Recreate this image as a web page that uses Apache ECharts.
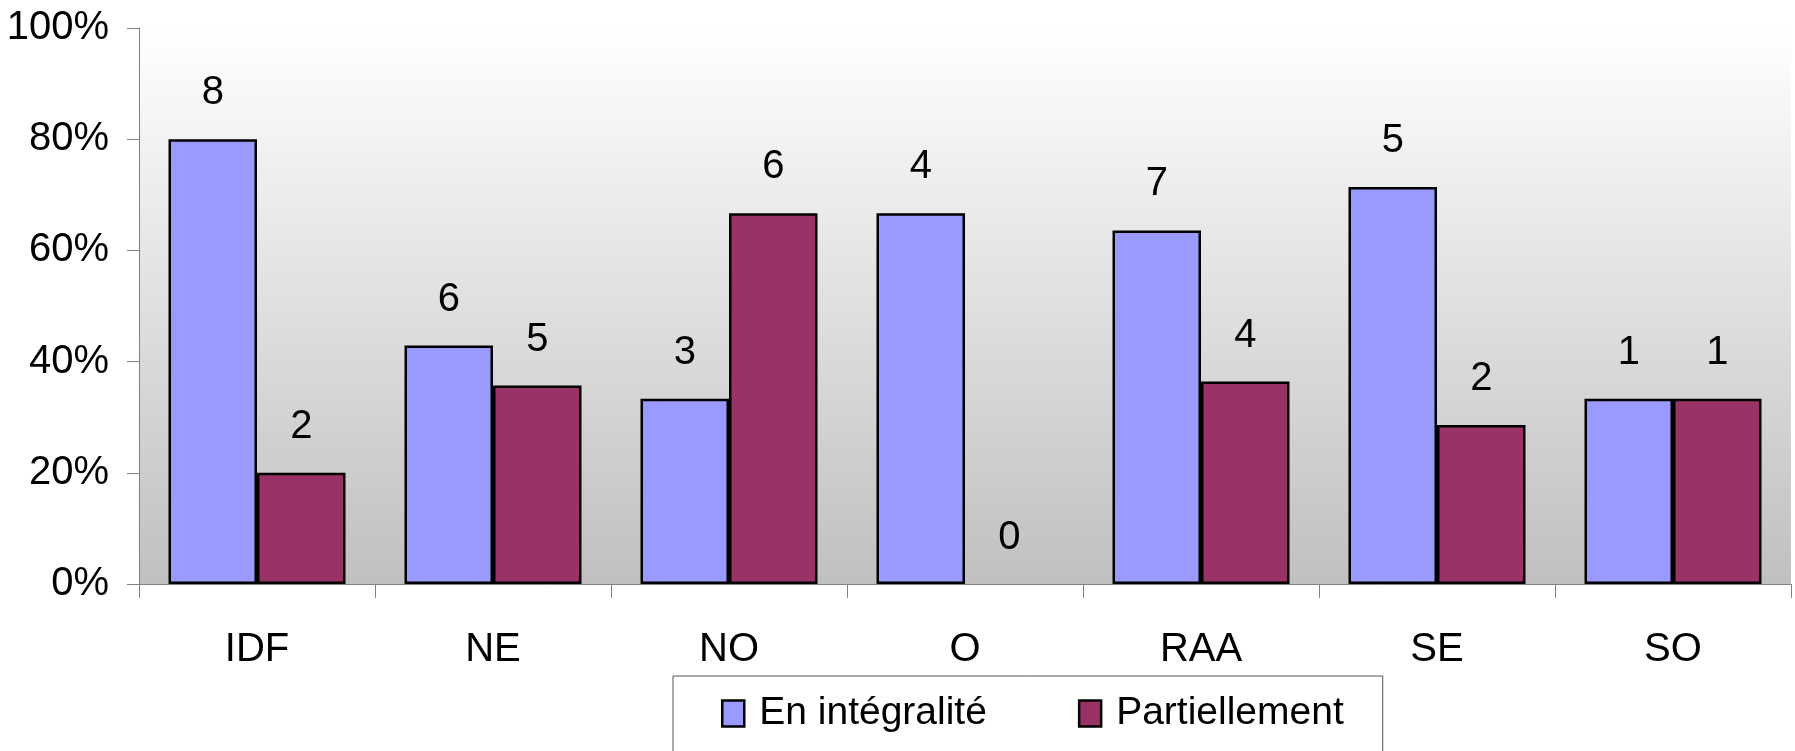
<!DOCTYPE html>
<html>
<head>
<meta charset="utf-8">
<script src="https://cdn.jsdelivr.net/npm/echarts@6/dist/echarts.min.js"></script>
<style>
  html, body { margin: 0; padding: 0; background: #fff; }
  #chart { width: 1795px; height: 751px; }
</style>
</head>
<body>
<div id="chart"></div>
<script>
// regions
const regions = ["IDF", "NE", "NO", "O", "RAA", "SE", "SO"];
// share of each region (%)
const integralPct = [80, 42.9, 33.3, 66.7, 63.6, 71.4, 33.3];
const partialPct = [20, 35.7, 66.7, 0, 36.4, 28.6, 33.3];
// counts written above the bars
const integralCount = [8, 6, 3, 4, 7, 5, 1];
const partialCount = [2, 5, 6, 0, 4, 2, 1];
const yTicks = [0, 20, 40, 60, 80, 100];

const font = "Liberation Sans, Arial, sans-serif";
const axisGrey = "#808080";

let chart = echarts.init(document.getElementById("chart"));

function barSeries(name, values, counts, color) {
  // a zero bar has no visible outline in the original
  let data = values.map(function(v) {
    return v === 0 ? { value: v, itemStyle: { borderWidth: 0 } } : v;
  });
  return {
    name: name,
    type: "bar",
    data: data,
    barGap: "0%",
    barCategoryGap: "25%",
    itemStyle: {
      color: color,
      borderColor: "#000",
      borderWidth: 2.5
    },
    label: {
      show: true,
      position: "top",
      distance: 26,
      fontSize: 40,
      fontFamily: font,
      color: "#000",
      formatter: function(p) {
        return counts[p.dataIndex];
      }
    }
  };
}

let option = {
  animation: false,
  grid: {
    left: 139,
    right: 4,
    top: 28,
    bottom: 167,
    show: true,
    borderWidth: 0,
    backgroundColor: new echarts.graphic.LinearGradient(0, 0, 0, 1, [
      { offset: 0, color: "#ffffff" },
      { offset: 1, color: "#c0c0c0" }
    ])
  },
  legend: {
    data: ["En intégralité", "Partiellement"],
    left: 673,
    top: 676,
    orient: "horizontal",
    padding: [18, 39, 60, 48],
    itemGap: 91,
    itemWidth: 22,
    itemHeight: 26,
    icon: "rect",
    borderColor: "#555",
    borderWidth: 1,
    backgroundColor: "#fff",
    itemStyle: {
      borderColor: "#000",
      borderWidth: 2.5
    },
    textStyle: {
      fontSize: 39,
      fontFamily: font,
      color: "#000",
      padding: [0, 0, 0, 10]
    }
  },
  xAxis: {
    type: "category",
    data: regions,
    axisLine: { lineStyle: { color: axisGrey, width: 1 } },
    axisTick: { show: true, length: 14, lineStyle: { color: axisGrey } },
    axisLabel: {
      margin: 46,
      fontSize: 40,
      fontFamily: font,
      color: "#000"
    }
  },
  yAxis: {
    type: "value",
    min: yTicks[0],
    max: yTicks[yTicks.length - 1],
    interval: 20,
    axisLine: { show: true, lineStyle: { color: axisGrey, width: 1 } },
    axisTick: { show: true, length: 12, lineStyle: { color: axisGrey } },
    splitLine: { show: false },
    axisLabel: {
      margin: 30,
      fontSize: 40,
      fontFamily: font,
      color: "#000",
      formatter: "{value}%"
    }
  },
  series: [
    barSeries("En intégralité", integralPct, integralCount, "#9999ff"),
    barSeries("Partiellement", partialPct, partialCount, "#993366")
  ]
};
chart.setOption(option, true);
</script>
</body>
</html>
